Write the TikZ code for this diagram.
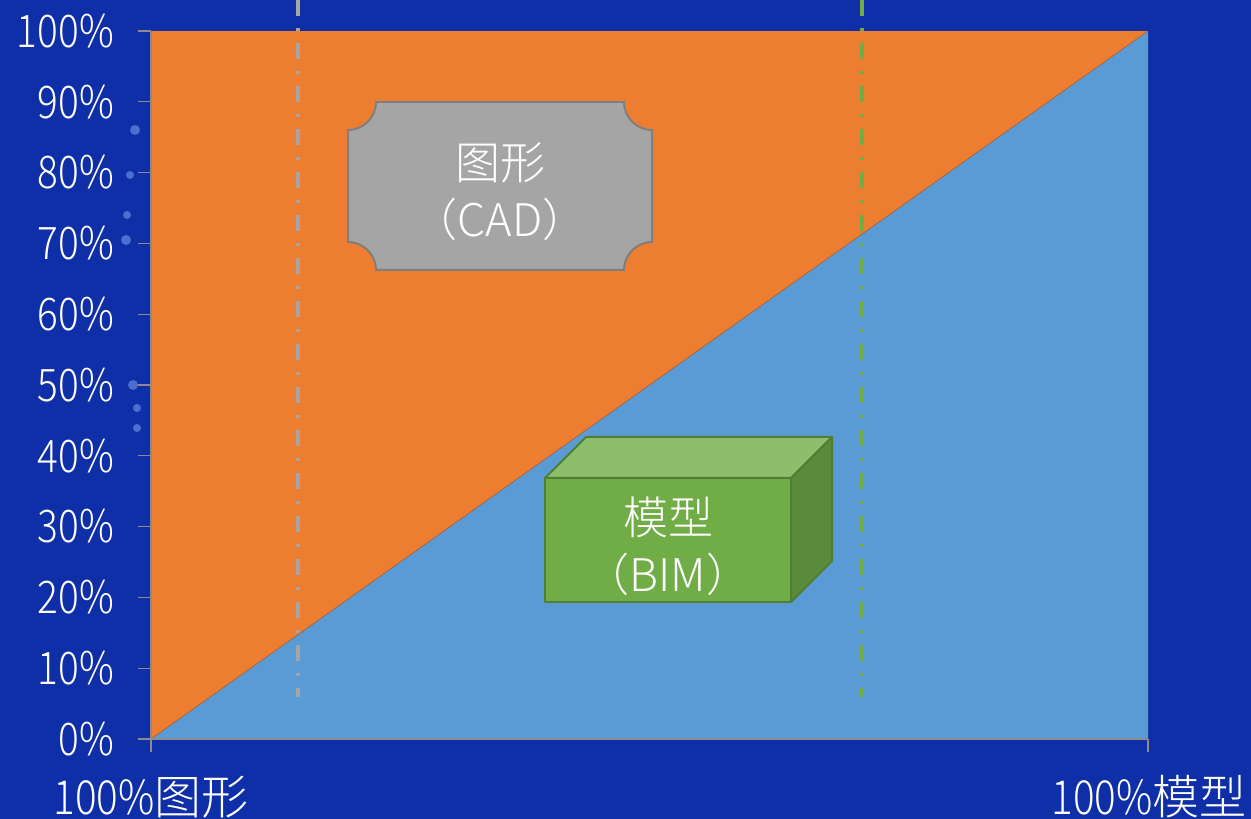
\documentclass[tikz,border=0pt]{standalone}
\usepackage{fontspec}
\setmainfont{Noto Sans CJK SC Light}
\newfontfamily\numfont{Noto Sans CJK SC Light}[FakeStretch=0.86]
\definecolor{bg}{HTML}{0F2FA8}
\definecolor{cadorange}{HTML}{ED7D31}
\definecolor{bimblue}{HTML}{5B9BD5}
\definecolor{boxgray}{HTML}{A5A5A5}
\definecolor{boxedge}{HTML}{7F7F7F}
\definecolor{gfront}{HTML}{70AD47}
\definecolor{gtop}{HTML}{8DBE6C}
\definecolor{gside}{HTML}{5A8A3A}
\definecolor{gedge}{HTML}{507E32}
\definecolor{axisgray}{HTML}{8C8C8C}
\definecolor{glow}{HTML}{4A6FD0}
\tikzset{
  ylab/.style={anchor=east, text=white, font=\numfont\fontsize{45}{45}\selectfont, inner sep=0pt},
  xlab/.style={anchor=center, text=white, font=\fontsize{47}{47}\selectfont, inner sep=0pt},
  boxtext/.style={align=center, text=white, font=\fontsize{45}{57}\selectfont, inner sep=0pt},
  guide/.style={line width=3.5pt, dash pattern=on 16pt off 12pt on 3pt off 12pt},
  axisline/.style={draw=axisgray, line width=1.2pt},
  sparkle/.style={fill=glow}
}
\begin{document}
\begin{tikzpicture}[x=1pt,y=1pt]
\fill[bg] (0,0) rectangle (1251,819);
\useasboundingbox (0,0) rectangle (1251,819);
% faint sparkles
\foreach \sx/\sy/\sr in {135/689/5, 130/644/4, 127/604/4, 126/579/5, 133/434/5, 137/411/4, 137/391/4}
  \fill[sparkle] (\sx,\sy) circle (\sr);
% plot area
\coordinate (o) at (151,80);
\coordinate (tl) at (151,788);
\coordinate (tr) at (1148,788);
\coordinate (br) at (1148,80);
\fill[cadorange] (o) rectangle (tr);
\fill[bimblue] (o) -- (tr) -- (br) -- cycle;
\draw[cadorange!70!black, line width=0.5pt] (o) -- (tr);
% axes
\draw[axisline] (tl) -- (o) -- (br);
\foreach \i in {0,...,10}{
  \draw[axisline] (138,80+70.8*\i) -- (151,80+70.8*\i);
  \pgfmathtruncatemacro\pc{10*\i}
  \node[ylab] (yl\i) at (114,80+70.8*\i) {\pc\%};
}
\draw[axisline] (o) -- ++(0,-13);
\draw[axisline] (br) -- ++(0,-13);
% guide lines
\coordinate (g1t) at (298,819);
\coordinate (g1b) at (298,122);
\coordinate (g2t) at (862,819);
\coordinate (g2b) at (862,122);
\draw[guide, boxgray] (g1t) -- (g1b);
\draw[guide, gfront] (g2t) -- (g2b);
% CAD plaque
\filldraw[fill=boxgray, draw=boxedge, line width=2pt]
  (376,717) -- (624,717) arc[start angle=180, end angle=270, radius=28]
  -- (652,577) arc[start angle=90, end angle=180, radius=28]
  -- (376,549) arc[start angle=0, end angle=90, radius=28]
  -- (348,689) arc[start angle=-90, end angle=0, radius=28] -- cycle;
\node[boxtext] (cad) at (500,627) {图形\\（CAD）};
% BIM cube
\filldraw[fill=gtop, draw=gedge, line width=2pt, line join=round] (545,341) -- (586,382) -- (832,382) -- (791,341) -- cycle;
\filldraw[fill=gside, draw=gedge, line width=2pt, line join=round] (791,341) -- (832,382) -- (832,258) -- (791,217) -- cycle;
\filldraw[fill=gfront, draw=gedge, line width=2pt, line join=round] (545,217) rectangle (791,341);
\node[boxtext] (bim) at (668,273) {模型\\（BIM）};
% bottom labels
\node[xlab] (xl0) at (151,22) {{\numfont 100\%}图形};
\node[xlab] (xl1) at (1149,22) {{\numfont 100\%}模型};
\end{tikzpicture}
\end{document}
